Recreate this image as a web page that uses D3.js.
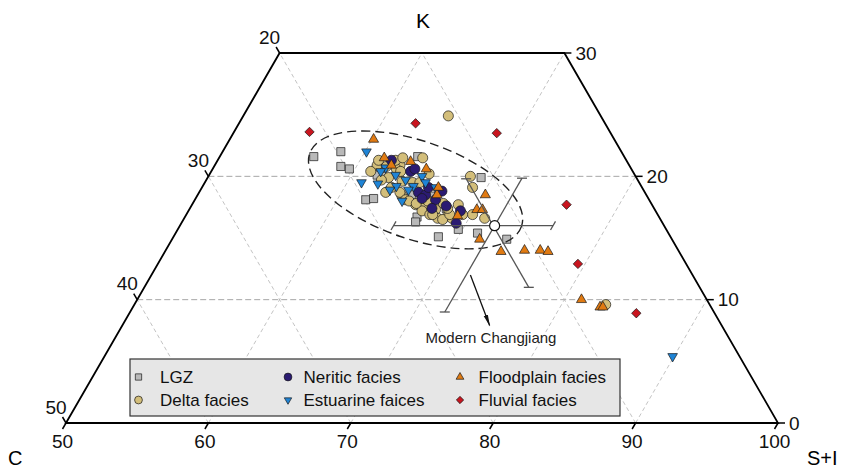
<!DOCTYPE html>
<html>
<head>
<meta charset="utf-8">
<script src="https://cdn.jsdelivr.net/npm/d3@7"></script>
<style>
  body { margin: 0; background: #fff; }
  svg { display: block; font-family: "Liberation Sans", Arial, sans-serif; }
</style>
</head>
<body>
<div id="chart"></div>
<script>
// every sample is [S+I, K]  (C = 100 - S+I - K)
const lgz = [[56.6,21.6],[58.3,22.0],[58.9,20.8],[59.6,20.6],[62.0,18.1],[62.5,18.2],[63.9,21.6],[61.5,20.6],
  [62.2,20.0],[61.8,20.1],[65.0,18.5],[66.4,18.4],[68.0,17.4],[66.3,16.7],[66.4,16.3],[69.7,15.7],[69.2,19.9],
  [71.2,15.4],[73.5,14.9],[68.6,15.1]];
const delta = [[64.4,24.9],[64.3,21.5],[65.4,20.2],[61.4,20.9],[62.1,20.8],[63.0,20.9],[62.9,20.6],[62.7,19.9],
  [63.8,19.6],[64.6,19.5],[68.4,20.0],[69.0,19.1],[64.3,18.5],[65.7,17.7],[66.4,17.6],[67.3,17.3],[67.8,16.6],
  [68.4,16.8],[67.6,17.8],[66.4,17.2],[67.1,16.9],[70.1,16.9],[68.8,16.6],[69.4,16.9],[71.1,16.6],[83.1,9.6],
  [63.1,18.7],[64.1,18.7],[64.8,18.1],[63.3,19.1],[62.3,19.7],[61.3,21.3],[63.3,20.4],[65.1,18.0],[65.7,17.8],
  [67.3,16.9],[68.2,16.5],[68.5,16.9],[68.1,17.4],[66.4,18.0],[62.5,21.3],[65.1,19.5],[61.2,20.4],[68.7,17.7],
  [62.9,21.5]];
const neritic = [[62.2,21.3],[64.0,20.4],[64.2,20.6],[65.4,18.7],[66.0,18.5],[65.9,18.2],[67.0,18.8],[66.9,18.1],
  [67.0,17.4],[69.1,17.2],[69.3,16.2],[67.9,17.6],[65.9,19.1]];
const estuarine = [[60.1,22.0],[61.0,19.5],[62.2,19.4],[62.1,20.7],[63.1,20.1],[64.0,19.7],[63.6,19.2],[64.8,19.2],
  [65.0,20.0],[65.5,19.5],[66.4,19.1],[64.6,18.9],[64.6,18.0],[89.9,5.4],[63.3,18.9],[61.9,20.4]];
const floodplain = [[60.1,23.0],[61.6,21.5],[62.4,20.9],[63.6,21.2],[65.0,20.6],[66.8,18.5],[69.1,16.8],[70.2,17.3],
  [70.6,17.3],[70.2,18.5],[71.6,14.9],[73.6,13.9],[75.2,14.0],[76.3,14.0],[76.9,13.9],[81.2,10.0],[82.8,9.4],
  [83.0,9.4],[66.6,19.1]];
const fluvial = [[55.3,23.6],[62.4,24.3],[68.5,23.5],[76.3,17.7],[79.5,12.9],[85.6,8.9]];

const bottomTicks = [50, 60, 70, 80, 90, 100];   // S+I
const rightTicks = [0, 10, 20, 30];              // K
const leftTicks = [50, 40, 30, 20];              // C

// Modern Changjiang mean and its three range bars
const modernCJ = [72.1, 16.0];
const modernBars = [
  [[65.0, 16.0], [76.2, 16.0]],
  [[72.1, 9.0], [72.1, 19.85]],
  [[68.2, 19.8], [77.0, 11.0]]
];
const arrowEnds = [[72.4, 12.0], [75.8, 7.9]];
const ellipseCenter = [65.1, 18.9];

const groups = [
  {name: 'LGZ', data: lgz, symbol: d3.symbolSquare, size: 66, rot: 0, fill: '#b9b9b9'},
  {name: 'Delta facies', data: delta, symbol: d3.symbolCircle, size: 80, rot: 0, fill: '#d3be7a'},
  {name: 'Neritic facies', data: neritic, symbol: d3.symbolCircle, size: 80, rot: 0, fill: '#2b1b72'},
  {name: 'Estuarine faices', data: estuarine, symbol: d3.symbolTriangle, size: 40, rot: 180, fill: '#1f84d6'},
  {name: 'Floodplain facies', data: floodplain, symbol: d3.symbolTriangle, size: 44, rot: 0, fill: '#e07a12'},
  {name: 'Fluvial facies', data: fluvial, symbol: d3.symbolSquare, size: 44, rot: 45, fill: '#c9151f'}
];

class TernaryPlot {
    constructor(_config) {
        this.config = {
            parentElement: _config.parentElement,
            containerWidth: _config.containerWidth || 845,
            containerHeight: _config.containerHeight || 468
        };
        this.initVis();
    }

    initVis() {
        let vis = this;

        vis.svg = d3.select(vis.config.parentElement).append('svg')
            .attr('width', vis.config.containerWidth)
            .attr('height', vis.config.containerHeight);

        // bottom axis is S+I, height is K; the triangle is cut at K = 30 and S+I = 50
        vis.sx = d3.scaleLinear().domain([50, 100]).range([66, 778]);
        vis.sy = d3.scaleLinear().domain([0, 30]).range([423, 53]);
        vis.proj = (s, k) => [vis.sx(s) + (vis.sx(50 + k) - vis.sx(50)) / 2, vis.sy(k)];

        vis.svg.append('defs').append('marker')
            .attr('id', 'arrow')
            .attr('viewBox', '0 0 12 6')
            .attr('refX', 11).attr('refY', 3)
            .attr('markerWidth', 12).attr('markerHeight', 6)
            .attr('markerUnits', 'userSpaceOnUse')
            .attr('orient', 'auto')
            .append('path')
            .attr('d', 'M0,0.8 L12,3 L0,5.2 Z')
            .attr('fill', '#111');

        vis.renderVis();
    }

    renderVis() {
        let vis = this;
        const p = vis.proj;
        const line = d3.line();

        // grid
        const grid = vis.svg.append('g');
        [10, 20].forEach(k => {
            grid.append('path').attr('d', line([p(50, k), p(100 - k, k)]))
                .attr('stroke', '#a6a6a6').attr('stroke-width', 1).attr('stroke-dasharray', '6,3');
        });
        [60, 70, 80, 90].forEach(s => {
            grid.append('path').attr('d', line([p(s, 0), p(s, Math.min(30, 100 - s))]))
                .attr('stroke', '#b4b4b4').attr('stroke-width', 0.8).attr('stroke-dasharray', '4,3');
        });
        [10, 20, 30, 40].forEach(c => {
            const k = Math.min(30, 50 - c);
            grid.append('path').attr('d', line([p(100 - c, 0), p(100 - c - k, k)]))
                .attr('stroke', '#b4b4b4').attr('stroke-width', 0.8).attr('stroke-dasharray', '4,3');
        });

        // frame
        vis.svg.append('path')
            .attr('d', line([p(50, 0), p(50, 30), p(70, 30), p(100, 0)]) + 'Z')
            .attr('fill', 'none').attr('stroke', '#000').attr('stroke-width', 1.8);

        const ticks = vis.svg.append('g').attr('stroke', '#000').attr('stroke-width', 1.5);
        const labels = vis.svg.append('g').attr('font-size', 19).attr('fill', '#111');

        bottomTicks.forEach(s => {
            const [x, y] = p(s, 0);
            ticks.append('line').attr('x1', x).attr('y1', y).attr('x2', x - 3.5).attr('y2', y + 6);
            labels.append('text').attr('x', x - 3.5).attr('y', y + 25)
                .attr('text-anchor', 'middle').text(s);
        });
        rightTicks.forEach(k => {
            const [x, y] = p(100 - k, k);
            ticks.append('line').attr('x1', x).attr('y1', y).attr('x2', x + 7).attr('y2', y);
            labels.append('text').attr('x', x + 11).attr('y', y)
                .attr('dominant-baseline', 'central').text(k);
        });
        leftTicks.forEach(c => {
            const [x, y] = p(50, 50 - c);
            ticks.append('line').attr('x1', x).attr('y1', y).attr('x2', x - 3.5).attr('y2', y - 6);
            labels.append('text').attr('x', x - 10).attr('y', y - 16)
                .attr('text-anchor', 'middle').attr('dominant-baseline', 'central').text(c);
        });

        // axis names
        vis.svg.append('text').attr('x', 423).attr('y', 28).attr('text-anchor', 'middle')
            .attr('font-size', 21).text('K');
        vis.svg.append('text').attr('x', 8).attr('y', 465).attr('font-size', 20).text('C');
        vis.svg.append('text').attr('x', 807).attr('y', 465).attr('font-size', 20).text('S+I');

        // samples
        groups.forEach(g => {
            vis.svg.append('g').selectAll('path')
                .data(g.data)
                .join('path')
                .attr('d', d3.symbol().type(g.symbol).size(g.size))
                .attr('transform', d => {
                    const [x, y] = p(d[0], d[1]);
                    return `translate(${x},${y}) rotate(${g.rot})`;
                })
                .attr('fill', g.fill)
                .attr('stroke', '#1a1a1a')
                .attr('stroke-width', 0.7);
        });

        // dashed envelope round the cluster
        const [ex, ey] = p(ellipseCenter[0], ellipseCenter[1]);
        vis.svg.append('ellipse')
            .attr('cx', 0).attr('cy', 0).attr('rx', 112).attr('ry', 49)
            .attr('transform', `translate(${ex},${ey}) rotate(19)`)
            .attr('fill', 'none').attr('stroke', '#222').attr('stroke-width', 1.4)
            .attr('stroke-dasharray', '9,5');

        // Modern Changjiang ranges
        const bars = vis.svg.append('g').attr('stroke', '#555').attr('stroke-width', 1.3).attr('fill', 'none');
        modernBars.forEach((b, i) => {
            const a = p(b[0][0], b[0][1]), z = p(b[1][0], b[1][1]);
            bars.append('path').attr('d', line([a, z]));
            // caps: horizontal bar gets 60deg caps, slanted bars get flat caps
            const cap = i === 0 ? [2.5, -4.3] : [5, 0];
            [a, z].forEach(e => {
                bars.append('path').attr('d', line([[e[0] - cap[0], e[1] - cap[1]], [e[0] + cap[0], e[1] + cap[1]]]));
            });
        });
        const [mx, my] = p(modernCJ[0], modernCJ[1]);
        vis.svg.append('circle').attr('cx', mx).attr('cy', my).attr('r', 5)
            .attr('fill', '#fff').attr('stroke', '#111').attr('stroke-width', 1.2);

        vis.svg.append('path')
            .attr('d', line([p(arrowEnds[0][0], arrowEnds[0][1]), p(arrowEnds[1][0], arrowEnds[1][1])]))
            .attr('stroke', '#111').attr('stroke-width', 1.3).attr('marker-end', 'url(#arrow)');
        vis.svg.append('text').attr('x', 491).attr('y', 343).attr('text-anchor', 'middle')
            .attr('font-size', 15).attr('fill', '#222').text('Modern Changjiang');

        // legend, three columns of two
        const legend = vis.svg.append('g');
        legend.append('rect').attr('x', 130).attr('y', 359).attr('width', 490).attr('height', 57)
            .attr('fill', '#e6e6e6').attr('stroke', '#333').attr('stroke-width', 1.2);
        const colX = [138.5, 288, 460], textX = [160, 303.5, 478.5], rowY = [377, 400];
        groups.forEach((g, j) => {
            const col = Math.floor(j / 2), row = j % 2;
            legend.append('path')
                .attr('d', d3.symbol().type(g.symbol).size(g.size * 0.6))
                .attr('transform', `translate(${colX[col]},${rowY[row]}) rotate(${g.rot})`)
                .attr('fill', g.fill).attr('stroke', '#1a1a1a').attr('stroke-width', 0.7);
            legend.append('text').attr('x', textX[col]).attr('y', rowY[row] + 6)
                .attr('font-size', 17).attr('fill', '#111').text(g.name);
        });
    }
}

new TernaryPlot({parentElement: '#chart'});
</script>
</body>
</html>
